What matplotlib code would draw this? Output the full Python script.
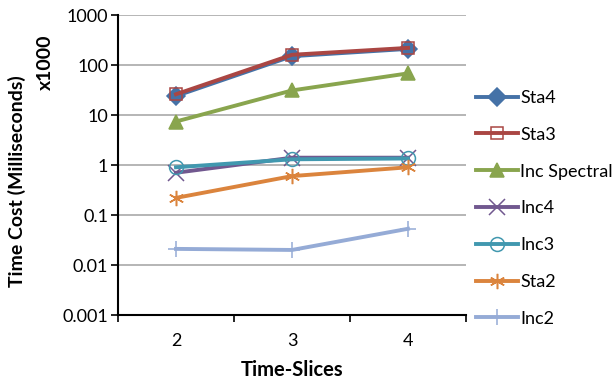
import numpy as np
import matplotlib.pyplot as plt
from matplotlib.ticker import FixedLocator, NullLocator

plt.rcParams['font.family'] = ['Lato', 'DejaVu Sans']

slices = [2, 3, 4]
sta4 = [24, 150, 210]
sta3 = [26, 160, 220]
inc_spectral = [7.4, 31, 68]
inc4 = [0.7, 1.4, 1.4]
inc3 = [0.9, 1.3, 1.35]
sta2 = [0.22, 0.6, 0.9]
inc2 = [0.021, 0.020, 0.053]

names = ['Sta4', 'Sta3', 'Inc Spectral', 'Inc4', 'Inc3', 'Sta2', 'Inc2']
values = [sta4, sta3, inc_spectral, inc4, inc3, sta2, inc2]
colors = ['#4572A7', '#AA4643', '#89A54E', '#71588F', '#4198AF', '#DB843D', '#95ABD6']
markers = ['D', 's', '^', 'x', 'o', (6, 2, 0), '+']
msizes = [9, 9, 10, 11, 10, 11, 12]
filled = [True, False, True, True, False, True, True]

fig = plt.figure(figsize=(6.14, 3.82), dpi=100)
ax = fig.add_axes([118 / 614, 1 - 315 / 382, (466 - 118) / 614, 300 / 382])

for name, vals, c, m, ms, f in zip(names, values, colors, markers, msizes, filled):
    ax.plot(slices, vals, color=c, lw=2.8, marker=m, markersize=ms,
            markerfacecolor=c if f else 'none', markeredgecolor=c,
            markeredgewidth=1.1, label=name)

ax.set_yscale('log')
ax.set_ylim(0.001, 1000)
ax.set_xlim(1.5, 4.5)
yt = [0.001, 0.01, 0.1, 1, 10, 100, 1000]
ax.yaxis.set_major_locator(FixedLocator(yt))
ax.yaxis.set_minor_locator(NullLocator())
ax.set_yticklabels(['0.001', '0.01', '0.1', '1', '10', '100', '1000'])
ax.set_xticks(slices)
ax.set_xticks([1.5, 2.5, 3.5, 4.5], minor=True)
ax.tick_params(axis='x', which='major', length=0, pad=13, labelsize=13)
ax.tick_params(axis='x', which='minor', length=5, width=1.2, direction='out')
ax.tick_params(axis='y', length=5, width=1.2, direction='out', labelsize=13, pad=2)
ax.grid(axis='y', color='#B0B0B0', lw=1.3)
ax.set_axisbelow(True)
for s in ['top', 'right']:
    ax.spines[s].set_visible(False)
for s in ['left', 'bottom']:
    ax.spines[s].set_linewidth(1.5)

ax.set_xlabel('Time-Slices', fontsize=14.5, fontweight='bold', labelpad=8)
fig.text(17 / 614, 1 - 181 / 382, 'Time Cost (Milliseconds)', rotation=90,
         fontsize=14, fontweight='bold', ha='center', va='center')
fig.text(45 / 614, 1 - 62 / 382, 'x1000', rotation=90,
         fontsize=14, fontweight='bold', ha='center', va='center')

fig.legend(loc='upper left', bbox_to_anchor=(476 / 614, 1 - 90 / 382), frameon=False,
           fontsize=13, handlelength=2.3, handletextpad=0.15, labelspacing=1.15,
           borderaxespad=0, borderpad=0)

fig.savefig('out.png', dpi=100)
